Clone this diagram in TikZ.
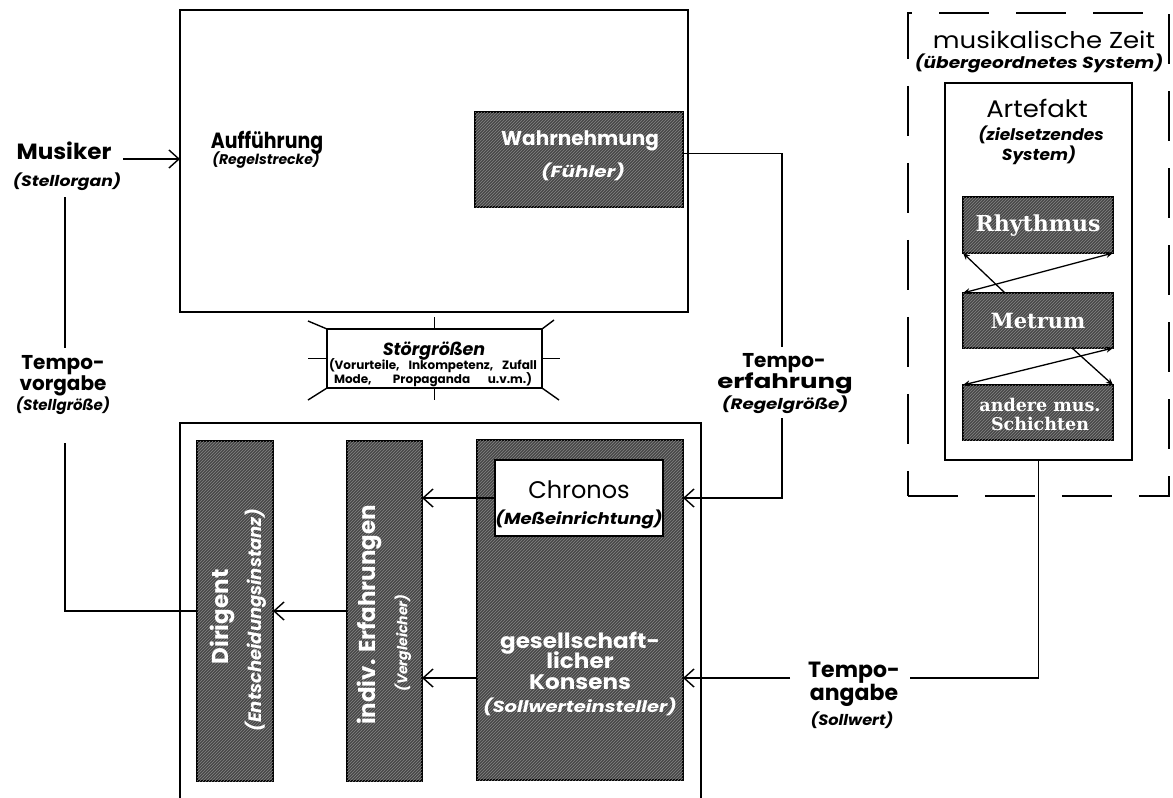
\documentclass[tikz,border=0pt]{standalone}
\usepackage{fontspec}
\usepackage{graphicx}
\setmainfont{Poppins}
\newfontfamily\serifb{DejaVu Serif}
\usetikzlibrary{arrows.meta,patterns}
\newcommand{\wx}[2]{\scalebox{#1}[1]{#2}}
\begin{document}
\begin{tikzpicture}[x=1pt,y=-1pt,
  frame/.style={draw, line width=1.8pt, inner sep=0pt, outer sep=0pt},
  dark/.style={draw, line width=1.8pt, fill=black!72, postaction={pattern=north east lines, pattern color=black!48}, inner sep=0pt, outer sep=0pt},
  lab/.style={inner sep=0pt, anchor=base, font=\fontsize{24}{26}\selectfont},
  blab/.style={inner sep=0pt, anchor=base, font=\fontsize{22}{24}\selectfont\bfseries},
  tlab/.style={inner sep=0pt, anchor=base, font=\fontsize{20}{22}\selectfont\bfseries},
  sub/.style={inner sep=0pt, anchor=base, font=\fontsize{15}{17}\selectfont\bfseries\itshape},
  wlab/.style={inner sep=0pt, anchor=base, text=white, font=\fontsize{21}{23}\selectfont\bfseries},
  wsub/.style={inner sep=0pt, anchor=base, text=white, font=\fontsize{16}{18}\selectfont\bfseries\itshape},
  slab/.style={inner sep=0pt, anchor=base, text=white, font=\fontsize{22}{24}\selectfont\serifb\bfseries},
  con/.style={line width=1.4pt},
  arr/.style={con, -{Straight Barb[length=10pt,width=18pt]}},
  sarr/.style={line width=1.3pt, -{Stealth[length=7pt,width=6pt]}},
  sarrb/.style={line width=1.3pt, {Stealth[length=7pt,width=6pt]}-{Stealth[length=7pt,width=6pt]}},
  ray/.style={line width=1.4pt}
]
\useasboundingbox (0,0) rectangle (1173,798);

% ---------- top: Aufführung ----------
\node[frame, minimum width=508pt, minimum height=302pt, anchor=north west] (perf) at (180,10) {};
\node[dark, minimum width=208pt, minimum height=95pt, anchor=north west] (wahr) at (475,112) {};
\node[wlab, font=\fontsize{20}{22}\selectfont\bfseries] (wahrT) at (580,145) {Wahrnehmung};
\node[wsub] (wahrS) at (583,177) {\wx{1.25}{(Fühler)}};
\node[blab] (auf) at (267,148) {\wx{0.86}{Aufführung}};
\node[sub, font=\fontsize{14}{16}\selectfont\bfseries\itshape] (aufS) at (266,164) {(Regelstrecke)};

% ---------- Musiker ----------
\node[blab] (mus) at (64,159) {\wx{1.05}{Musiker}};
\node[sub] (musS) at (67,186) {\wx{1.15}{(Stellorgan)}};

% ---------- Tempo-vorgabe ----------
\node[tlab] (tv1) at (63,369) {Tempo-};
\node[tlab] (tv2) at (63,390) {vorgabe};
\node[sub] (tv3) at (63,410) {(Stellgröße)};

% ---------- Tempo-erfahrung ----------
\node[tlab] (te1) at (784,367) {Tempo-};
\node[tlab] (te2) at (785,388) {\wx{1.3}{erfahrung}};
\node[sub] (te3) at (785,409) {\wx{1.22}{(Regelgröße)}};

% ---------- Tempo-angabe ----------
\node[blab] (ta1) at (854,677) {Tempo-};
\node[blab] (ta2) at (854,700) {angabe};
\node[sub] (ta3) at (852,725) {\wx{1.08}{(Sollwert)}};

% ---------- Störgrößen ----------
\node[frame, line width=1.5pt, fill=white, minimum width=215pt, minimum height=59pt, anchor=north west] (stoer) at (327,329) {};
\node[inner sep=0pt, anchor=base, font=\fontsize{17.5}{19}\selectfont\bfseries\itshape] (stT) at (434,355) {Störgrößen};
\node[inner sep=0pt, anchor=base, font=\fontsize{12}{13}\selectfont\bfseries] (stA) at (433,369) {\makebox[208pt][s]{(Vorurteile, Inkompetenz, Zufall}};
\node[inner sep=0pt, anchor=base, font=\fontsize{12}{13}\selectfont\bfseries] (stB2) at (433,383) {\makebox[198pt][s]{Mode, Propaganda u.v.m.)}};
\draw[ray] (stoer.north) -- ++(0,-12);
\draw[ray] (stoer.south) -- ++(0,12);
\draw[ray] (stoer.west) -- ++(-19,0);
\draw[ray] (stoer.east) -- ++(18,0);
\draw[ray] (stoer.north west) -- ++(-19,-8);
\draw[ray] (stoer.north east) -- ++(12,-9);
\draw[ray] (stoer.south west) -- ++(-19,12);
\draw[ray] (stoer.south east) -- ++(17,12);

% ---------- bottom: Regler ----------
\node[frame, minimum width=521pt, minimum height=420pt, anchor=north west] (reg) at (180,423) {};
\node[dark, minimum width=76pt, minimum height=340pt, anchor=north west] (dir) at (197,441) {};
\node[dark, minimum width=75pt, minimum height=340pt, anchor=north west] (ind) at (347,441) {};
\node[dark, minimum width=206pt, minimum height=340pt, anchor=north west] (kons) at (477,440) {};
\node[frame, fill=white, minimum width=168pt, minimum height=76pt, anchor=north west] (chr) at (495,460) {};

\node[inner sep=0pt, rotate=90, text=white, font=\fontsize{23}{25}\selectfont\bfseries] (dirT) at (222,617) {Dirigent};
\node[inner sep=0pt, rotate=90, text=white, font=\fontsize{18}{20}\selectfont\bfseries\itshape] (dirS) at (256,620) {(Entscheidungsinstanz)};
\node[inner sep=0pt, rotate=90, text=white, font=\fontsize{23}{25}\selectfont\bfseries] (indT) at (369,615) {indiv. Erfahrungen};
\node[inner sep=0pt, rotate=90, text=white, font=\fontsize{14}{16}\selectfont\bfseries\itshape] (indS) at (403,643) {(Vergleicher)};

\node[lab] (chrT) at (579,498) {Chronos};
\node[sub, font=\fontsize{16}{18}\selectfont\bfseries\itshape] (chrS) at (579,524) {\wx{1.13}{(Meßeinrichtung)}};

\node[wlab] (k1) at (580,648) {\wx{1.1}{gesellschaft-}};
\node[wlab] (k2) at (580,668) {\wx{1.1}{licher}};
\node[wlab] (k3) at (580,689) {\wx{1.1}{Konsens}};
\node[wsub] (k4) at (580,712) {\wx{1.22}{(Sollwerteinsteller)}};

% ---------- right: musikalische Zeit ----------
\node[draw, line width=1.8pt, dash pattern=on 50pt off 27pt, inner sep=0pt, minimum width=261pt, minimum height=483pt, anchor=north west] (zeit) at (907,12) {};
\node[lab, font=\fontsize{23}{25}\selectfont] (zeitT) at (1044,48) {\wx{1.13}{musikalische Zeit}};
\node[sub, font=\fontsize{16}{18}\selectfont\bfseries\itshape] (zeitS) at (1039,68) {\wx{1.16}{(übergeordnetes System)}};
\node[frame, fill=white, minimum width=187pt, minimum height=377pt, anchor=north west] (art) at (945,83) {};
\node[lab] (artT) at (1037,117) {\wx{1.08}{Artefakt}};
\node[sub, font=\fontsize{16}{18}\selectfont\bfseries\itshape] (artS1) at (1041,140) {\wx{1.06}{(zielsetzendes}};
\node[sub, font=\fontsize{16}{18}\selectfont\bfseries\itshape] (artS2) at (1039,160) {\wx{1.06}{System)}};

\node[dark, minimum width=150pt, minimum height=56pt, anchor=north west] (rhy) at (963,197) {};
\node[dark, minimum width=150pt, minimum height=55pt, anchor=north west] (met) at (963,293) {};
\node[dark, minimum width=150pt, minimum height=55pt, anchor=north west] (and) at (963,385) {};
\node[slab] (rhyT) at (1038,231) {Rhythmus};
\node[slab, font=\fontsize{21}{23}\selectfont\serifb\bfseries] (metT) at (1038,328) {Metrum};
\node[slab, font=\fontsize{17.5}{19}\selectfont\serifb\bfseries] (andT1) at (1040,411) {andere mus.};
\node[slab, font=\fontsize{17.5}{19}\selectfont\serifb\bfseries] (andT2) at (1040,430) {Schichten};

\draw[sarr] ([xshift=42pt]met.north west) -- (rhy.south west);
\draw[sarrb] (met.north west) -- (rhy.south east);
\draw[sarr] ([xshift=-41pt]met.south east) -- (and.north east);
\draw[sarrb] (and.north west) -- (met.south east);

% ---------- connectors ----------
\coordinate (musR) at (123,159);
\coordinate (stBot) at (65,197);
\coordinate (tvT) at (65,348);
\coordinate (tvB) at (65,443);
\path (wahr.east) ++(0,-6) coordinate (wOut);
\coordinate (teT) at (782,347);
\coordinate (teB) at (782,418);
\coordinate (taL) at (790,678);
\coordinate (taR) at (910,678);

\draw[arr] (musR) -- (musR -| perf.west);
\draw[con] (stBot) -- (tvT);
\draw[con] (tvB) |- (dir.west);
\draw[con] (wOut) -| (teT);
\draw[arr] (teB) |- (chr -| kons.east);
\draw[arr] (chr.west) -- (chr.west -| ind.east);
\draw[arr] (taL) -- (taL -| kons.east);
\draw[arr] (kons.west |- taL) -- (ind.east |- taL);
\draw[arr] (ind.west) -- (dir.east);
\draw[con] (taR) -| (art.south);
\end{tikzpicture}
\end{document}
